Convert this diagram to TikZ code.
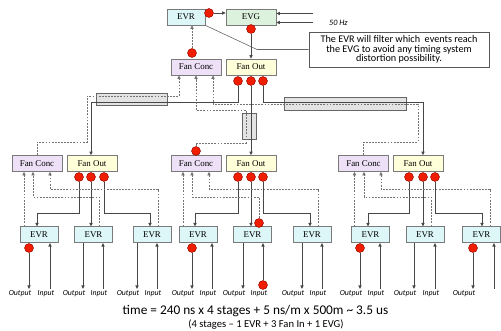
\documentclass[tikz,border=0pt]{standalone}
\usepackage{fontspec}
\setmainfont{Liberation Serif}
\newfontfamily\calib{Carlito}
\usetikzlibrary{arrows.meta}
\definecolor{evrc}{HTML}{DDF6F8}
\definecolor{evgc}{HTML}{DCF2DC}
\definecolor{fcc}{HTML}{EDE0F7}
\definecolor{foc}{HTML}{FFFFDA}
\definecolor{reddot}{HTML}{F01E00}
\definecolor{boxline}{HTML}{7A7A7A}
\begin{document}
\begin{tikzpicture}[x=1pt,y=-1pt,
  box/.style={draw=boxline, line width=0.7pt, minimum height=16pt, inner sep=0pt, font=\fontsize{8.9}{9}\selectfont},
  evrbox/.style={box, fill=evrc, minimum width=38pt},
  evgbox/.style={box, fill=evgc, minimum width=50pt},
  fcbox/.style={box, fill=fcc, minimum width=50pt},
  fobox/.style={box, fill=foc, minimum width=50pt},
  rdot/.style={circle, fill=reddot, draw=red!55!black, line width=0.4pt, minimum size=9pt, inner sep=0pt},
  sl/.style={draw=black!72, line width=0.75pt},
  dl/.style={draw=black!55, line width=0.65pt, dash pattern=on 1.8pt off 1.3pt},
  arr/.style={-{Triangle[length=3.5pt,width=3.2pt]}},
  cable/.style={draw=black!60, fill=gray!22, line width=0.6pt, inner sep=0pt},
  lab/.style={font=\calib\itshape\fontsize{7.8}{8}\selectfont, inner sep=0pt, anchor=north},
]
\useasboundingbox (0,0) rectangle (501,331);

% ---------- top level ----------
\node[evrbox] (evr0) at (186,17) {EVR};
\node[evgbox] (evg) at (251,17) {EVG};
\node[fcbox] (fc0) at (196,67) {Fan Conc};
\node[fobox] (fo0) at (251,67) {Fan Out};
\node[draw=black!65, line width=0.6pt, minimum width=180pt, minimum height=35pt, inner sep=0pt,
      align=center, font=\calib\fontsize{10.2}{9.4}\selectfont] (note) at (399,49.5)
  {The EVR will filter which \ events reach\\the EVG to avoid any timing system\\distortion possibility.};
\node[rdot] (dEVR0) at (209,13) {};
\node[rdot] (dEVG) at (251,29) {};
\node[rdot] (dFC0) at (192,53) {};
\node[rdot] (d0a) at (238,81) {};
\node[rdot] (d0b) at (251,81) {};
\node[rdot] (d0c) at (263,81) {};
\coordinate (in1) at (313,13.5);
\coordinate (in2) at (313,22.5);
\node[font=\calib\itshape\fontsize{8.2}{8}\selectfont, anchor=west, inner sep=0pt] (hz) at (329,23) {50 Hz};

% cables
\node[cable, minimum width=71pt, minimum height=12pt] (barL) at (131.5,99) {};
\node[cable, minimum width=122pt, minimum height=13pt] (barR) at (345,103.5) {};
\node[cable, minimum width=14pt, minimum height=26pt] (barM) at (249,126) {};

% ---------- second level ----------
\node[fcbox] (fc1) at (37,163.5) {Fan Conc};
\node[fobox] (fo1) at (92,163.5) {Fan Out};
\node[fcbox] (fc2) at (196,163.5) {Fan Conc};
\node[fobox] (fo2) at (251,163.5) {Fan Out};
\node[fcbox] (fc3) at (363.5,163.5) {Fan Conc};
\node[fobox] (fo3) at (418,163.5) {Fan Out};
\node[rdot] (dFC2) at (196,151) {};
\node[rdot] (dL1) at (79,177) {};
\node[rdot] (dL2) at (91,177) {};
\node[rdot] (dL3) at (104,177) {};
\node[rdot] (dM1) at (238,177) {};
\node[rdot] (dM2) at (251,177) {};
\node[rdot] (dM3) at (263,177) {};
\node[rdot] (dR1) at (409,177) {};
\node[rdot] (dR2) at (423,177) {};
\node[rdot] (dR3) at (435,177) {};

% ---------- EVR row ----------
\node[evrbox] (e1) at (39,234.7) {EVR};
\node[evrbox] (e2) at (93.5,234.7) {EVR};
\node[evrbox] (e3) at (152,234.7) {EVR};
\node[evrbox] (e4) at (198,234.7) {EVR};
\node[evrbox] (e5) at (252.5,234.7) {EVR};
\node[evrbox] (e6) at (312,234.7) {EVR};
\node[evrbox] (e7) at (370.5,234.7) {EVR};
\node[evrbox] (e8) at (425,234.7) {EVR};
\node[evrbox] (e9) at (481.5,234.7) {EVR};
\node[rdot] (dE5) at (259,223) {};
\node[rdot] (dB1) at (29,248) {};
\node[rdot] (dB4) at (192,248) {};
\node[rdot] (dB7) at (360,248) {};
\node[rdot] (dB9) at (473,248) {};
\node[rdot] (dI5) at (263,285) {};

% ---------- top connectors ----------
\draw[sl,arr] (dEVR0.east) -- (evg.west |- dEVR0);
\draw[sl,arr] (in1) -- (evg.east |- in1);
\draw[sl,arr] (in2) -- (evg.east |- in2);
\draw[sl,arr] (dEVG.south) -- (fo0.north);
\draw[dl,arr] (dFC0.north) -- (evr0.south -| dFC0);
\draw[black!60, line width=0.6pt] (evr0.south east) -- (257,49.5) -- (note.west);

% to left group
\draw[sl,arr] (d0a.south) |- (91,102) -- ([xshift=-1pt]fo1.north);
\draw[dl,arr] (fc1.north) |- (87,142) |- (179,96) -- ([xshift=-17pt]fc0.south);
% to middle group
\draw[sl,arr] (d0b.south) -- (fo2.north);
\draw[dl,arr] (dFC2.north) |- (246,143) |- (196,110) -- (fc0.south);
% to right group
\draw[sl,arr] (d0c.south) |- (423,102) -- ([xshift=5pt]fo3.north);
\draw[dl,arr] (fc3.north) |- (418,142) |- (213,104) -- ([xshift=17pt]fc0.south);

% ---------- left group ----------
\draw[sl,arr] (dL1.south) |- (37,213) -- ([xshift=-2pt]e1.north);
\draw[sl,arr] (dL2.south) -- (e2.north -| dL2);
\draw[sl,arr] (dL3.south) |- (150,213) -- ([xshift=-2pt]e3.north);
\draw[dl,arr] ([xshift=-15pt]e1.north) -- ([xshift=-13pt]fc1.south);
\draw[dl,arr] ([xshift=5.5pt]e2.north) |- (33,197) -- ([xshift=-4pt]fc1.south);
\draw[dl,arr] ([xshift=6pt]e3.north) |- (50,189) -- ([xshift=13pt]fc1.south);

% ---------- middle group ----------
\draw[sl,arr] (dM1.south) |- (195,213) -- ([xshift=-3pt]e4.north);
\draw[sl,arr] (dM2.south) -- (e5.north -| dM2);
\draw[sl,arr] (dM3.south) |- (310,213) -- ([xshift=-2pt]e6.north);
\draw[dl,arr] ([xshift=-15pt]e4.north) -- ([xshift=-13pt]fc2.south);
\draw[dl,arr] (dE5.north) |- (192,197) -- ([xshift=-4pt]fc2.south);
\draw[dl,arr] ([xshift=6pt]e6.north) |- (209,189) -- ([xshift=13pt]fc2.south);

% ---------- right group ----------
\draw[sl,arr] (dR1.south) |- (368,213) -- ([xshift=-2.5pt]e7.north);
\draw[sl,arr] (dR2.south) -- (e8.north -| dR2);
\draw[sl,arr] (dR3.south) |- (482,213) -- ([xshift=0.5pt]e9.north);
\draw[dl,arr] ([xshift=-16pt]e7.north) -- ([xshift=-9pt]fc3.south);
\draw[dl,arr] ([xshift=6pt]e8.north) |- (364,197) -- ([xshift=0.5pt]fc3.south);
\draw[dl,arr] ([xshift=8.5pt]e9.north) |- (381,189) -- ([xshift=17.5pt]fc3.south);

% ---------- outputs / inputs ----------
\foreach \k/\ox/\ix in {1/29/50,2/83/103,3/137/157,4/192/212,5/243/263,6/302/322,7/360/380,8/414/435,9/473/494}{
  \coordinate (o\k) at (\ox,289);
  \coordinate (i\k) at (\ix,289);
}
\draw[sl,arr] (dB1.south) -- (o1);
\draw[sl,arr] (e2.south -| o2) -- (o2);
\draw[sl,arr] (e3.south -| o3) -- (o3);
\draw[sl,arr] (dB4.south) -- (o4);
\draw[sl,arr] (e5.south -| o5) -- (o5);
\draw[sl,arr] (e6.south -| o6) -- (o6);
\draw[sl,arr] (dB7.south) -- (o7);
\draw[sl,arr] (e8.south -| o8) -- (o8);
\draw[sl,arr] (dB9.south) -- (o9);
\foreach \k in {1,2,3,4,6,7,8,9}{
  \draw[sl,arr] (i\k) -- (e\k.south -| i\k);
}
\draw[sl,arr] (dI5.north) -- (e5.south -| dI5);

\foreach \k/\ox/\ix in {1/29/50,2/83/103,3/137/157,4/192/212,5/243/263,6/302/322,7/360/380,8/414/435}{
  \node[lab] (lo\k) at (\ox-9,290) {Output};
  \node[lab] (li\k) at (\ix-4,290) {Input};
}
\node[lab] (lo9) at (464,290) {Output};

% ---------- bottom text ----------
\node[font=\calib\fontsize{13.3}{14}\selectfont, inner sep=0pt] (t1) at (255.5,311) {time = 240 ns x 4 stages + 5 ns/m x 500m \textasciitilde{} 3.5 us};
\node[font=\calib\fontsize{10.6}{11}\selectfont, inner sep=0pt] (t2) at (266,325) {(4 stages – 1 EVR + 3 Fan In + 1 EVG)};
\end{tikzpicture}
\end{document}
